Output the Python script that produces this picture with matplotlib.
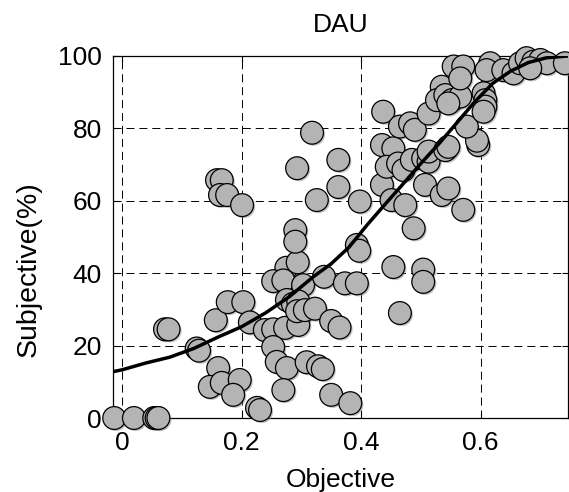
import matplotlib
matplotlib.use("Agg")
import matplotlib.pyplot as plt
import matplotlib.patheffects as pe
import numpy as np

plt.rcParams['font.family'] = ['Liberation Sans', 'DejaVu Sans']

# scores: objective metric vs. subjective rating (%)
objective = [
    -0.013, 0.020, 0.054, 0.058, 0.061,
    0.072, 0.078, 0.125, 0.129, 0.157, 0.177, 0.203,
    0.161, 0.147, 0.167, 0.197, 0.186, 0.214, 0.226, 0.231,
    0.239, 0.253, 0.273, 0.295, 0.253, 0.259, 0.276, 0.270,
    0.309, 0.328, 0.336, 0.350, 0.382,
    0.275, 0.294, 0.290, 0.290, 0.253, 0.270, 0.303,
    0.338, 0.373, 0.393, 0.393, 0.397,
    0.276, 0.286, 0.295, 0.293, 0.306, 0.323, 0.350, 0.364,
    0.454, 0.504, 0.504, 0.465,
    0.159, 0.167, 0.164, 0.176, 0.201,
    0.318, 0.293, 0.326, 0.362, 0.362, 0.398, 0.488,
    0.437, 0.435, 0.454, 0.435,
    0.443, 0.462, 0.471, 0.485, 0.504, 0.513,
    0.451, 0.474, 0.507, 0.513, 0.541, 0.546, 0.535, 0.546, 0.571,
    0.596, 0.594, 0.577,
    0.465, 0.482, 0.490, 0.513,
    0.535, 0.527, 0.541, 0.552, 0.566, 0.546,
    0.555, 0.571, 0.566,
    0.605, 0.608, 0.608, 0.605, 0.616, 0.610, 0.638, 0.655,
    0.666, 0.677, 0.688, 0.700, 0.711, 0.683, 0.741,
]
subjective = [
    0.0, 0.0, 0.0, 0.0, 0.0,
    24.5, 24.5, 19.2, 18.6, 27.0, 32.0, 32.0,
    13.8, 8.6, 9.7, 10.5, 6.4, 26.4, 2.8, 2.2,
    24.3, 24.5, 24.9, 25.7, 19.6, 15.5, 13.8, 7.7,
    15.4, 14.3, 13.5, 6.4, 4.1,
    41.5, 43.0, 51.9, 48.7, 37.8, 38.0, 36.7,
    39.0, 37.2, 37.2, 47.8, 46.2,
    32.6, 31.5, 32.2, 29.5, 29.8, 30.2, 26.8, 25.0,
    41.7, 41.0, 37.6, 29.0,
    65.7, 65.7, 61.6, 61.6, 58.8,
    78.8, 69.0, 60.2, 71.3, 63.8, 59.8, 52.4,
    84.6, 75.4, 74.5, 64.4,
    69.4, 70.3, 68.5, 71.3, 71.7, 70.8,
    60.2, 58.8, 64.4, 73.6, 74.0, 74.9, 61.6, 63.4, 57.5,
    75.4, 76.6, 80.5,
    80.5, 81.4, 79.6, 84.1,
    91.5, 87.8, 89.2, 87.8, 88.8, 86.9,
    97.1, 97.1, 93.8,
    89.7, 87.8, 86.0, 84.6, 98.0, 96.1, 96.1, 95.2,
    98.0, 99.4, 98.4, 98.9, 98.0, 96.6, 98.0,
]

# fitted mapping curve
fit_x = [-0.015, 0.0, 0.04, 0.08, 0.12, 0.16, 0.20, 0.24, 0.28, 0.32,
         0.35, 0.38, 0.41, 0.44, 0.47, 0.50, 0.53, 0.56, 0.59, 0.62,
         0.65, 0.68, 0.71, 0.746]
fit_y = [12.8, 13.3, 15.2, 16.8, 19.2, 22.3, 25.2, 29.0, 33.5, 39.0,
         42.6, 47.2, 53.3, 59.0, 64.6, 70.3, 75.7, 81.5, 87.3, 92.4,
         95.8, 98.2, 99.5, 100.0]

fig = plt.figure(figsize=(5.69, 4.92), dpi=100)
ax = fig.add_axes([0.1986, 0.1504, 0.7994, 0.7358])

sc = ax.scatter(objective, subjective, s=270, facecolor='#b4b4b4',
                edgecolor='black', linewidth=0.9, zorder=3, clip_on=False)
sc.set_path_effects([pe.SimplePatchShadow(offset=(1.2, -1.2), shadow_rgbFace='#888888', alpha=0.5),
                     pe.Normal()])
ax.plot(fit_x, fit_y, color='black', linewidth=2.5, zorder=4)

ax.set_xlim(-0.015, 0.746)
ax.set_ylim(0, 100)
ax.set_xticks([0, 0.2, 0.4, 0.6])
ax.set_xticklabels(['0', '0.2', '0.4', '0.6'])
ax.set_yticks([0, 20, 40, 60, 80, 100])
ax.grid(True, color='black', linestyle=(0, (8.3, 5)), linewidth=0.7, zorder=0)
ax.tick_params(direction='in', length=4, labelsize=19, top=True, right=True)
ax.tick_params(axis='x', pad=9)
ax.tick_params(axis='y', pad=8)
for s in ax.spines.values():
    s.set_linewidth(0.9)

ax.set_title('DAU', fontsize=19, pad=17)
ax.set_xlabel('Objective', fontsize=19, labelpad=10)
ax.set_ylabel('Subjective(%)', fontsize=20.5)
ax.yaxis.set_label_coords(-0.156, 0.41)

fig.savefig('out.png', dpi=100)
